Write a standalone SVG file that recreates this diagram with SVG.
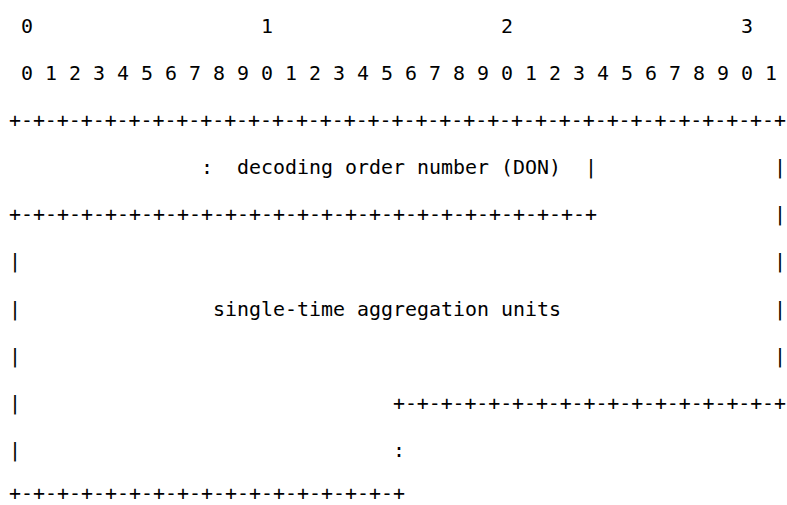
<svg xmlns="http://www.w3.org/2000/svg" width="787" height="505" viewBox="0 0 787 505">
<style>
text { font-family: "DejaVu Sans Mono", "Liberation Mono", monospace; font-size: 19.93px; fill: #000; }
.r { text-anchor: end; }
</style>
<rect width="787" height="505" fill="#ffffff"/>
<g id="bit-ruler">
<text x="21" y="33">0</text>
<text x="261" y="33">1</text>
<text x="501" y="33">2</text>
<text x="741" y="33">3</text>
<text x="21" y="80" textLength="756" lengthAdjust="spacing">0 1 2 3 4 5 6 7 8 9 0 1 2 3 4 5 6 7 8 9 0 1 2 3 4 5 6 7 8 9 0 1</text>
</g>
<g id="don-field">
<text x="9" y="127" textLength="777" lengthAdjust="spacing">+-+-+-+-+-+-+-+-+-+-+-+-+-+-+-+-+-+-+-+-+-+-+-+-+-+-+-+-+-+-+-+-+</text>
<text x="201" y="174">:</text>
<text x="237" y="174" textLength="324" lengthAdjust="spacing">decoding order number (DON)</text>
<text x="585" y="174">|</text>
<text class="r" x="786" y="174">|</text>
<text x="9" y="221" textLength="588" lengthAdjust="spacing">+-+-+-+-+-+-+-+-+-+-+-+-+-+-+-+-+-+-+-+-+-+-+-+-+</text>
</g>
<g id="aggregation-units">
<text class="r" x="786" y="221">|</text>
<text x="9" y="268">|</text>
<text class="r" x="786" y="268">|</text>
<text x="9" y="316">|</text>
<text x="213" y="316" textLength="348" lengthAdjust="spacing">single-time aggregation units</text>
<text class="r" x="786" y="316">|</text>
<text x="9" y="363">|</text>
<text class="r" x="786" y="363">|</text>
<text x="9" y="410">|</text>
<text x="393" y="410" textLength="393" lengthAdjust="spacing">+-+-+-+-+-+-+-+-+-+-+-+-+-+-+-+-+</text>
<text x="9" y="457">|</text>
<text x="393" y="457">:</text>
<text x="9" y="500" textLength="396" lengthAdjust="spacing">+-+-+-+-+-+-+-+-+-+-+-+-+-+-+-+-+</text>
</g>
</svg>
